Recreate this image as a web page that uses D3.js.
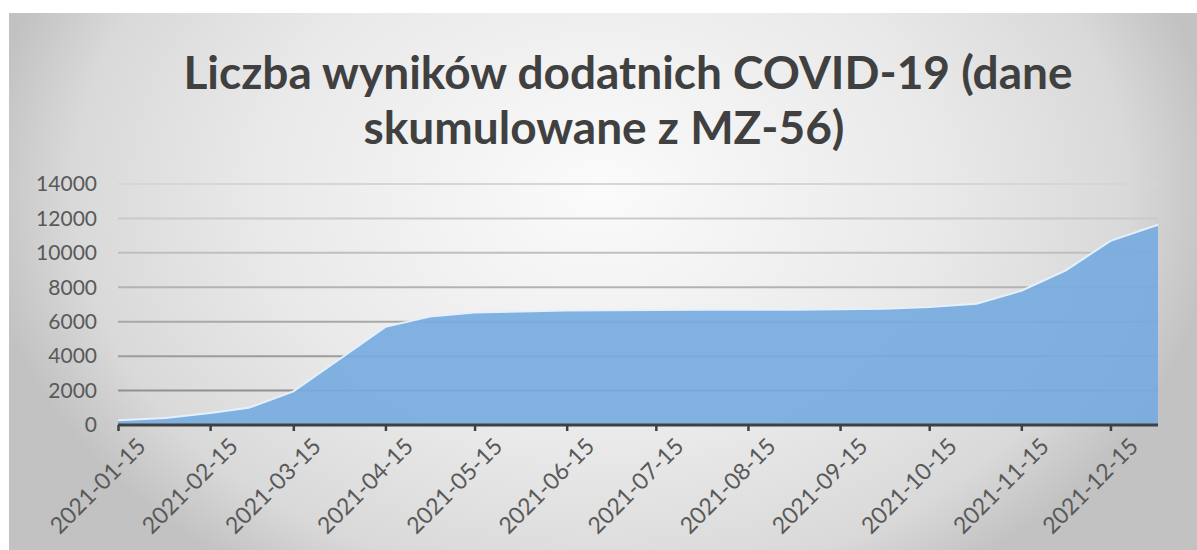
<!DOCTYPE html>
<meta charset="utf-8">
<script src="https://d3js.org/d3.v7.min.js"></script>
<style>
  body { margin: 0; background: #fff; }
  text { font-family: Lato, "Noto Sans", sans-serif; }
</style>
<div id="my_dataviz"></div>
<script>
// data (cumulative positive results, half-month reports)
var dates = ["2021-01-15","2021-01-31","2021-02-15","2021-02-28","2021-03-15","2021-03-31",
             "2021-04-15","2021-04-30","2021-05-15","2021-05-31","2021-06-15","2021-06-30",
             "2021-07-15","2021-07-31","2021-08-15","2021-08-31","2021-09-15","2021-09-30",
             "2021-10-15","2021-10-31","2021-11-15","2021-11-30","2021-12-15","2021-12-31"];
var values = [280, 400, 700, 1000, 1950, 3880,
              5700, 6300, 6530, 6600, 6650, 6670,
              6680, 6690, 6690, 6700, 6730, 6760,
              6850, 7050, 7800, 8980, 10700, 11630];
var tickDates = ["2021-01-15","2021-02-15","2021-03-15","2021-04-15","2021-05-15","2021-06-15",
                 "2021-07-15","2021-08-15","2021-09-15","2021-10-15","2021-11-15","2021-12-15"];
var yTicks = [0, 2000, 4000, 6000, 8000, 10000, 12000, 14000];
var titleLines = ["Liczba wyników dodatnich COVID-19 (dane", "skumulowane z MZ-56)"];

var W = 1197, H = 550;
var margin = {top: 184, right: 39, bottom: 125, left: 118},
    width = W - margin.left - margin.right,
    height = H - margin.top - margin.bottom;

var parse = d3.timeParse("%Y-%m-%d");
var data = dates.map(function(d, i) { return {date: parse(d), value: values[i]}; });

var svg = d3.select("#my_dataviz")
  .append("svg")
    .attr("width", W)
    .attr("height", H);

// background gradient like the Excel chart area
var defs = svg.append("defs");
var grad = defs.append("radialGradient")
    .attr("id", "bg")
    .attr("gradientUnits", "userSpaceOnUse")
    .attr("cx", 600).attr("cy", 190).attr("r", 620)
    .attr("gradientTransform", "translate(600,190) scale(1,0.75) translate(-600,-190)");
grad.append("stop").attr("offset", "0").attr("stop-color", "#fbfbfb");
grad.append("stop").attr("offset", "0.55").attr("stop-color", "#e9e9e9");
grad.append("stop").attr("offset", "0.85").attr("stop-color", "#d9d9d9");
grad.append("stop").attr("offset", "1").attr("stop-color", "#c2c2c2");

svg.append("rect")
    .attr("x", 9).attr("y", 13)
    .attr("width", W - 9).attr("height", H - 13)
    .attr("fill", "url(#bg)");

var g = svg.append("g")
    .attr("transform", "translate(" + margin.left + "," + margin.top + ")");

var x = d3.scaleTime()
    .domain(d3.extent(data, function(d) { return d.date; }))
    .range([0, width]);

var y = d3.scaleLinear()
    .domain([0, 14000])
    .range([height, 0]);

// gridlines, darker towards the bottom
var gridColor = d3.scaleLinear().domain([0, 14000]).range(["#858585", "#d6d6d6"]);
g.append("g")
  .selectAll("line")
  .data(yTicks.slice(1))
  .enter()
  .append("line")
    .attr("x1", 0).attr("x2", width)
    .attr("y1", function(d) { return y(d); })
    .attr("y2", function(d) { return y(d); })
    .attr("stroke", function(d) { return gridColor(d); })
    .attr("stroke-width", 2);

// area
var area = d3.area()
    .x(function(d) { return x(d.date); })
    .y0(y(0))
    .y1(function(d) { return y(d.value); });

g.append("path")
    .datum(data)
    .attr("d", area)
    .attr("fill", "#77abdf")
    .attr("fill-opacity", 0.92);

g.append("path")
    .datum(data)
    .attr("d", d3.line()
      .x(function(d) { return x(d.date); })
      .y(function(d) { return y(d.value); }))
    .attr("fill", "none")
    .attr("stroke", "#e4f0fb")
    .attr("stroke-width", 2);

// Y axis labels
var yAxis = g.append("g")
    .call(d3.axisLeft(y).tickValues(yTicks).tickSize(0).tickPadding(21).tickFormat(d3.format("d")));
yAxis.select(".domain").remove();
yAxis.selectAll("text")
    .attr("fill", "#595959")
    .style("font-size", "21px");

// X axis
var xAxis = g.append("g")
    .attr("transform", "translate(0," + height + ")")
    .call(d3.axisBottom(x)
      .tickValues(tickDates.map(parse))
      .tickSize(6)
      .tickFormat(d3.timeFormat("%Y-%m-%d")));
xAxis.select(".domain")
    .attr("d", "M0,0H" + width)
    .attr("stroke", "#404040")
    .attr("stroke-width", 3);
xAxis.selectAll(".tick line")
    .attr("stroke", "#404040")
    .attr("stroke-width", 2.5);
xAxis.selectAll("text")
    .attr("fill", "#595959")
    .style("font-size", "23px")
    .attr("text-anchor", "end")
    .attr("dy", "0.7em")
    .attr("transform", "translate(11,5) rotate(-45)");

// title
var titleX = [628, 604];
svg.append("g")
  .selectAll("text")
  .data(titleLines)
  .enter()
  .append("text")
    .attr("x", function(d, i) { return titleX[i]; })
    .attr("y", function(d, i) { return 89 + i * 55; })
    .attr("text-anchor", "middle")
    .attr("fill", "#404040")
    .style("font-size", "46px")
    .style("font-weight", "bold")
    .text(function(d) { return d; });
</script>
